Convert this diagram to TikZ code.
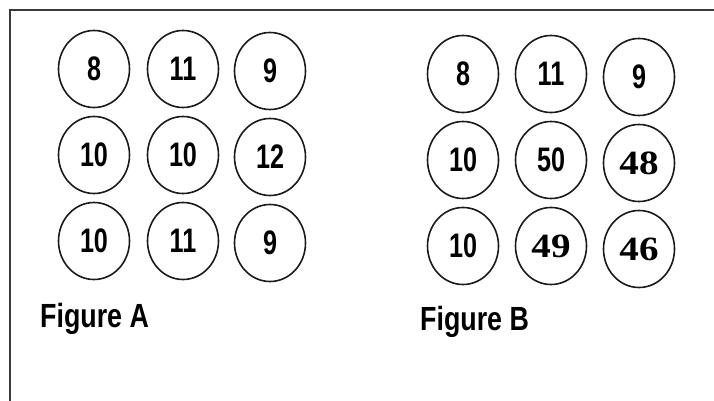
\documentclass[tikz,border=0pt]{standalone}
\usepackage{fontspec}
\usepackage{tikz}
\usetikzlibrary{shapes.geometric, positioning}
\newfontfamily\narrowsans[FakeStretch=0.8]{Liberation Sans}
\newfontfamily\narrowdigits[FakeStretch=0.74]{Liberation Sans}
\newfontfamily\wideserif[FakeStretch=1.15]{Liberation Serif}
\definecolor{inkgray}{HTML}{1A1A1A}
\definecolor{framegray}{HTML}{3A3A3A}

\begin{document}
\begin{tikzpicture}[
    x=1pt, y=-1pt,
    ball/.style={
        ellipse, draw=inkgray, line width=1.6pt,
        minimum width=71pt, minimum height=77pt, inner sep=0pt,
        font=\narrowdigits\bfseries\fontsize{34}{34}\selectfont,
    },
    serifball/.style={ball, font=\wideserif\bfseries\fontsize{34}{34}\selectfont},
    caption/.style={anchor=base west, inner sep=0pt,
        font=\narrowsans\bfseries\fontsize{33.5}{34}\selectfont},
]
\useasboundingbox (0,0) rectangle (714,401);

% frame
\draw[framegray, line width=1.8pt] (10,401) -- (10,10) -- (714,10);

% Figure A
\node[ball] (a11) at (94,69)  {8};
\node[ball] (a12) at (183,69) {11};
\node[ball] (a13) at (270,71) {9};
\node[ball] (a21) at (94,155)  {10};
\node[ball] (a22) at (183,155) {10};
\node[ball] (a23) at (270,157) {12};
\node[ball] (a31) at (94,241)  {10};
\node[ball] (a32) at (183,241) {11};
\node[ball] (a33) at (270,243) {9};

\node[caption] (capa) at (40,327) {Figure A};

% Figure B
\node[ball] (b11) at (463,74)  {8};
\node[ball] (b12) at (551,74)  {11};
\node[ball] (b13) at (639,77)  {9};
\node[ball] (b21) at (463,160) {10};
\node[ball] (b22) at (551,160) {50};
\node[serifball] (b23) at (639,163) {48};
\node[ball] (b31) at (463,246) {10};
\node[serifball] (b32) at (551,246) {49};
\node[serifball] (b33) at (639,249) {46};

\node[caption] (capb) at (420,330) {Figure B};

\end{tikzpicture}
\end{document}
